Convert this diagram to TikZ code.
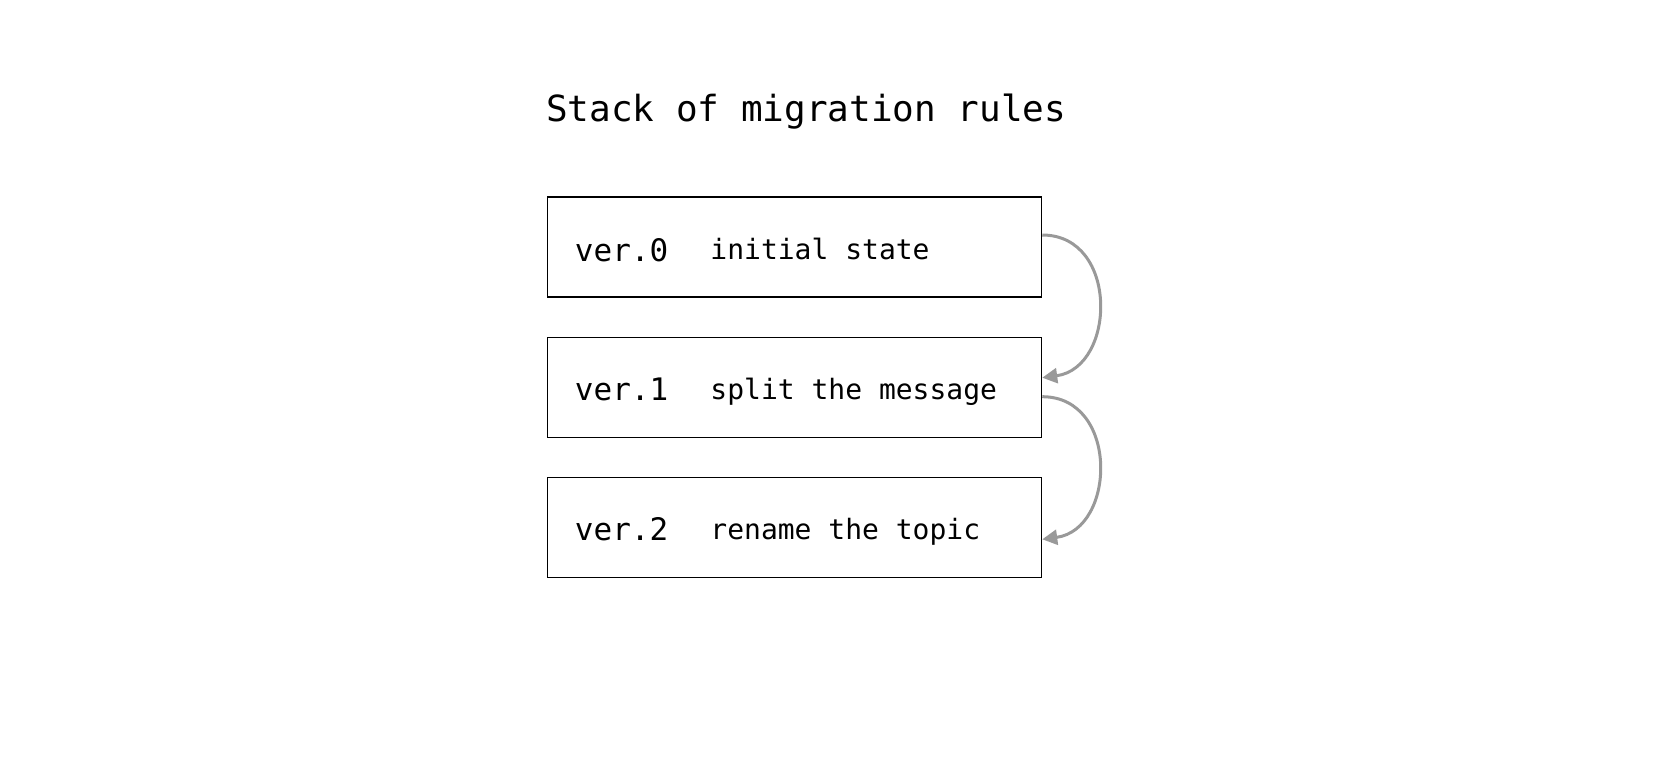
\documentclass[tikz,border=0pt]{standalone}
\usepackage{fontspec}
\usetikzlibrary{arrows.meta,calc}
\newfontfamily\monofam{DejaVu Sans Mono}
\definecolor{conngray}{HTML}{999999}
\begin{document}
\begin{tikzpicture}[x=1pt,y=-1pt,
  stagebox/.style={draw=black,line width=1.2pt,rectangle,minimum width=494.3pt,minimum height=100pt,inner sep=0pt},
  titletext/.style={anchor=base west,inner sep=0pt,font=\monofam\fontsize{36}{40}\selectfont},
  vertext/.style={anchor=base west,inner sep=0pt,font=\monofam\fontsize{31}{35}\selectfont},
  desctext/.style={anchor=base west,inner sep=0pt,font=\monofam\fontsize{28}{32}\selectfont},
  conn/.style={draw=conngray,line width=3pt,-{Triangle[length=15pt,width=15pt]}}
]
\useasboundingbox (0,0) rectangle (1670,757);
\node[titletext] (title) at (546,122) {Stack of migration rules};
\node[stagebox] (b0) at (794.5,247) {};
\node[stagebox] (b1) at (794.5,387.3) {};
\node[stagebox] (b2) at (794.5,527.3) {};
\node[vertext] (v0) at ($(b0.north west)+(28,65.5)$) {ver.0};
\node[desctext] (d0) at ($(b0.north west)+(163.5,63)$) {initial state};
\node[vertext] (v1) at ($(b1.north west)+(28,64)$) {ver.1};
\node[desctext] (d1) at ($(b1.north west)+(163.5,63)$) {split the message};
\node[vertext] (v2) at ($(b2.north west)+(28,64)$) {ver.2};
\node[desctext] (d2) at ($(b2.north west)+(163.5,63)$) {rename the topic};
\draw[conn] ([yshift=12pt]b0.east) .. controls +(77,0) and +(74,-10) .. ([yshift=9.6pt]b1.east);
\draw[conn] ([yshift=-9.4pt]b1.east) .. controls +(77,0) and +(74,-10) .. ([yshift=-12pt]b2.east);
\end{tikzpicture}
\end{document}
